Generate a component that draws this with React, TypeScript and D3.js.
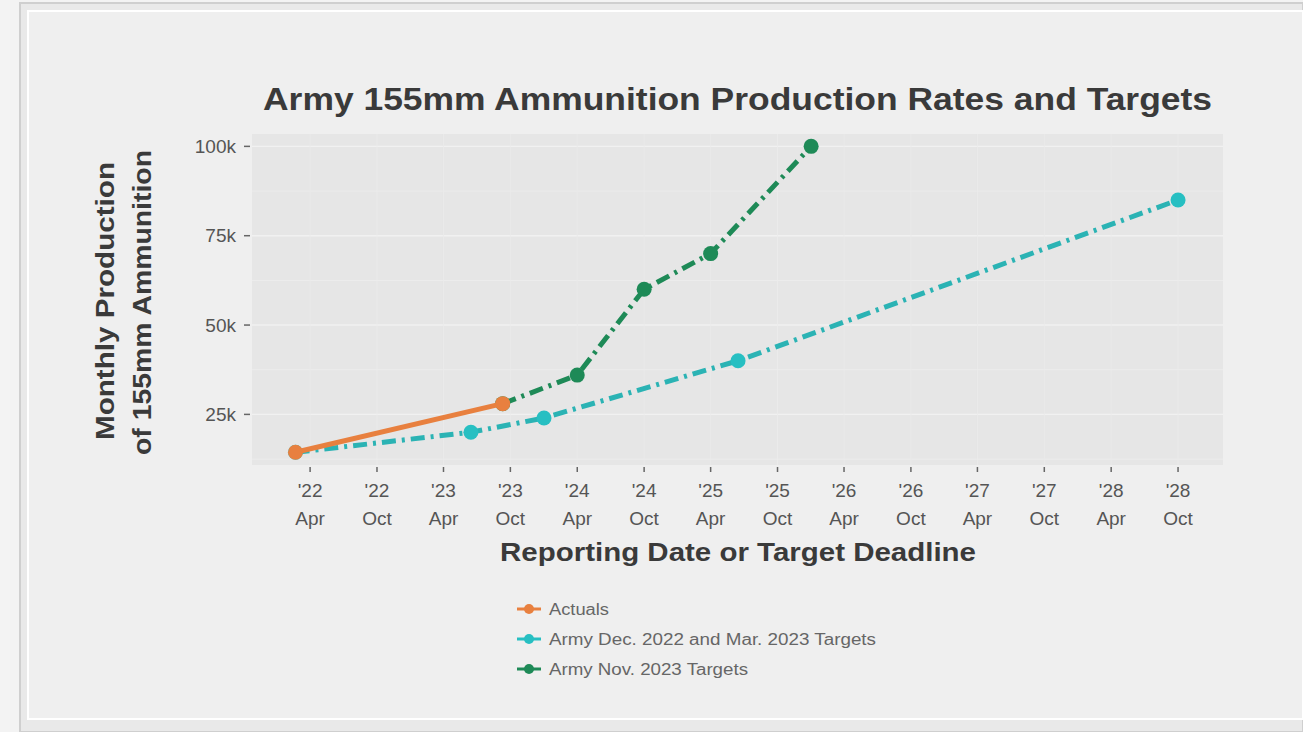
import * as d3 from 'd3';

// values (monthly 155mm rounds)
const actualDates = ['2022-02-20', '2023-09-10'];
const actualValues = [14400, 28000];

const dec22Dates = ['2022-02-20', '2023-06-15', '2024-01-01', '2025-06-15', '2028-10-01'];
const dec22Values = [14400, 20000, 24000, 40000, 85000];

const nov23Dates = ['2023-09-10', '2024-04-01', '2024-10-01', '2025-04-01', '2026-01-01'];
const nov23Values = [28000, 36000, 60000, 70000, 100000];

const yTicks = [25000, 50000, 75000, 100000];
const yTickLabels = ['25k', '50k', '75k', '100k'];
const yMinor = [12500, 37500, 62500, 87500];

const xTickDates = [
  '2022-04-01', '2022-10-01', '2023-04-01', '2023-10-01', '2024-04-01', '2024-10-01', '2025-04-01',
  '2025-10-01', '2026-04-01', '2026-10-01', '2027-04-01', '2027-10-01', '2028-04-01', '2028-10-01',
];
const xTickYears = ["'22", "'22", "'23", "'23", "'24", "'24", "'25", "'25", "'26", "'26", "'27", "'27", "'28", "'28"];
const xTickMonths = ['Apr', 'Oct', 'Apr', 'Oct', 'Apr', 'Oct', 'Apr', 'Oct', 'Apr', 'Oct', 'Apr', 'Oct', 'Apr', 'Oct'];

const seriesNames = ['Actuals', 'Army Dec. 2022 and Mar. 2023 Targets', 'Army Nov. 2023 Targets'];

const W = 1303;
const H = 732;
const panel = { left: 252, right: 1223, top: 134, bottom: 465 };
const FONT = '"Liberation Sans", Arial, Helvetica, sans-serif';

const ORANGE = '#E8803F';
const CYAN = '#27BFC2';
const CYAN_LINE = '#2BB3B4';
const GREEN = '#1E8A57';
const TEXT = '#555555';
const TITLE = '#3a3a3a';

// the photo is a bit wider than the fonts, so stretch the long texts to the measured widths
const legendWidths = [60, 327, 199];

type Pt = { date: Date; value: number };

const parse = d3.timeParse('%Y-%m-%d');
const toPts = (dates: string[], values: number[]): Pt[] =>
  dates.map((d, i) => ({ date: parse(d) as Date, value: values[i] }));

export default function App() {
  const x = d3.scaleTime()
    .domain([parse('2021-10-24') as Date, parse('2029-02-01') as Date])
    .range([panel.left, panel.right]);

  const y = d3.scaleLinear()
    .domain([10840, 103460])
    .range([panel.bottom, panel.top]);

  const line = d3.line<Pt>()
    .x(d => x(d.date))
    .y(d => y(d.value));

  const series = [
    { name: seriesNames[1], pts: toPts(dec22Dates, dec22Values), color: CYAN, stroke: CYAN_LINE, dash: '14,6,3,6', width: 5, r: 7.5 },
    { name: seriesNames[2], pts: toPts(nov23Dates, nov23Values), color: GREEN, stroke: GREEN, dash: '14,6,3,6', width: 5, r: 7.5 },
    { name: seriesNames[0], pts: toPts(actualDates, actualValues), color: ORANGE, stroke: ORANGE, dash: null, width: 5, r: 7.5 },
  ];

  const legend = [
    { name: seriesNames[0], color: ORANGE },
    { name: seriesNames[1], color: CYAN },
    { name: seriesNames[2], color: GREEN },
  ];

  return (
    <div style={{ position: 'absolute', left: 0, top: 0 }}>
      <svg width={W} height={H} style={{ display: 'block', fontFamily: FONT }}>
        {/* photographed screen frame */}
        <rect x={0} y={0} width={W} height={H} fill="#f3f3f3" />
        <rect x={20} y={3} width={W - 20} height={H - 3} fill="#e9e9e9" stroke="#cfcfcf" strokeWidth={2} />
        <rect x={28} y={11} width={W - 28} height={708} fill="#efefef" stroke="#ffffff" strokeWidth={2} />

        <text x={263} y={110} fontSize={32} fontWeight="bold" fill={TITLE}
          textLength={949} lengthAdjust="spacingAndGlyphs">
          Army 155mm Ammunition Production Rates and Targets
        </text>

        {/* panel */}
        <rect x={panel.left} y={panel.top} width={panel.right - panel.left} height={panel.bottom - panel.top} fill="#e6e6e6" />
        {yMinor.map(v => (
          <line key={'m' + v} x1={panel.left} x2={panel.right} y1={y(v)} y2={y(v)} stroke="#eeeeee" strokeWidth={0.8} />
        ))}
        {yTicks.map(v => (
          <line key={'g' + v} x1={panel.left} x2={panel.right} y1={y(v)} y2={y(v)} stroke="#f1f1f1" strokeWidth={1.4} />
        ))}
        {xTickDates.map(d => {
          const xx = x(parse(d) as Date);
          return <line key={'v' + d} x1={xx} x2={xx} y1={panel.top} y2={panel.bottom} stroke="#ebebeb" strokeWidth={0.8} />;
        })}

        {/* y axis */}
        {yTicks.map((v, i) => (
          <g key={'yt' + v}>
            <line x1={panel.left - 8} x2={panel.left - 2} y1={y(v)} y2={y(v)} stroke="#666" strokeWidth={1.5} />
            <text x={panel.left - 16} y={y(v)} dy="0.35em" textAnchor="end" fontSize={19} fill={TEXT}>
              {yTickLabels[i]}
            </text>
          </g>
        ))}

        {/* x axis */}
        {xTickDates.map((d, i) => {
          const xx = x(parse(d) as Date);
          return (
            <g key={'xt' + d}>
              <line x1={xx} x2={xx} y1={panel.bottom + 2} y2={panel.bottom + 7} stroke="#666" strokeWidth={1.5} />
              <text x={xx} y={497} textAnchor="middle" fontSize={19} fill={TEXT}>{xTickYears[i]}</text>
              <text x={xx} y={525} textAnchor="middle" fontSize={19} fill={TEXT}>{xTickMonths[i]}</text>
            </g>
          );
        })}

        <text x={500} y={561} fontSize={26} fontWeight="bold" fill={TITLE}
          textLength={476} lengthAdjust="spacingAndGlyphs">
          Reporting Date or Target Deadline
        </text>
        <g transform="rotate(-90)">
          <text x={-440} y={114} fontSize={26} fontWeight="bold" fill={TITLE}
            textLength={278} lengthAdjust="spacingAndGlyphs">Monthly Production</text>
          <text x={-455} y={151} fontSize={26} fontWeight="bold" fill={TITLE}
            textLength={305} lengthAdjust="spacingAndGlyphs">of 155mm Ammunition</text>
        </g>

        {/* series */}
        {series.map(s => (
          <g key={s.name}>
            <path
              d={line(s.pts) || ''}
              fill="none"
              stroke={s.stroke}
              strokeWidth={s.width}
              strokeDasharray={s.dash || undefined}
            />
            {s.pts.map((p, i) => (
              <circle key={i} cx={x(p.date)} cy={y(p.value)} r={s.r} fill={s.color} />
            ))}
          </g>
        ))}

        {/* legend */}
        {legend.map((l, i) => {
          const ly = 609 + i * 30;
          return (
            <g key={'lg' + l.name}>
              <line x1={517} x2={541} y1={ly} y2={ly} stroke={l.color} strokeWidth={3} />
              <circle cx={529} cy={ly} r={5} fill={l.color} />
              <text x={549} y={ly} dy="0.35em" fontSize={16} fill="#666"
                textLength={legendWidths[i]} lengthAdjust="spacingAndGlyphs">{l.name}</text>
            </g>
          );
        })}
      </svg>
    </div>
  );
}
